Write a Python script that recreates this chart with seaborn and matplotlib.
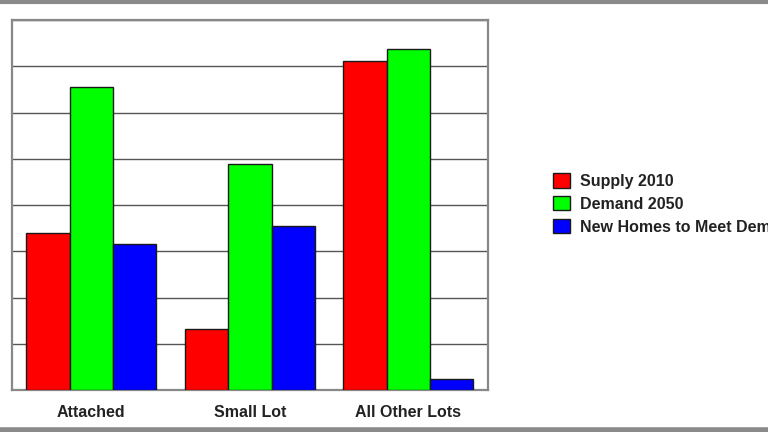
import matplotlib
matplotlib.use("Agg")
import matplotlib.pyplot as plt
import seaborn as sns
import pandas as pd
from matplotlib.lines import Line2D

categories = ["Attached", "Small Lot", "All Other Lots"]
series = ["Supply 2010", "Demand 2050", "New Homes to Meet Demand"]
supply_2010 = [3.39, 1.32, 7.11]
demand_2050 = [6.55, 4.89, 7.37]
new_homes = [3.16, 3.55, 0.24]
colors = ["#ff0000", "#00ff00", "#0000ff"]

rows = []
for name, vals in zip(series, [supply_2010, demand_2050, new_homes]):
    for cat, v in zip(categories, vals):
        rows.append({"Category": cat, "Series": name, "Value": v})
df = pd.DataFrame(rows)

sns.set_style("white")
plt.rcParams["font.family"] = ["Liberation Sans", "DejaVu Sans"]

fig = plt.figure(figsize=(7.68, 4.32), dpi=100)
ax = fig.add_axes([0.0156, 0.0972, 0.6195, 0.8565])

sns.barplot(data=df, x="Category", y="Value", hue="Series", palette=colors,
            saturation=1, width=0.82, edgecolor="#1a1a1a", linewidth=1,
            ax=ax, zorder=3)

ax.set_xlim(-0.5, 2.5)
ax.set_ylim(0, 8)
ax.set_yticks(range(9))
ax.set_yticklabels([])
ax.yaxis.grid(True, color="#555555", linewidth=1, zorder=0)
ax.xaxis.grid(False)
ax.set_xlabel("")
ax.set_ylabel("")
ax.tick_params(axis="both", length=0)
ax.tick_params(axis="x", pad=11, labelsize=11.5)
for lab in ax.get_xticklabels():
    lab.set_fontweight("bold")
    lab.set_color("#222222")
for sp in ax.spines.values():
    sp.set_color("#888888")
    sp.set_linewidth(1.6)
    sp.set_visible(True)

# legend sits on the right; its last label runs off the picture as in the original
handles, labels = ax.get_legend_handles_labels()
ax.legend_.remove()
leg = fig.legend(handles, labels, loc="center left", bbox_to_anchor=(0.72, 0.528),
                 frameon=False, borderpad=0, borderaxespad=0, handlelength=1.05,
                 handleheight=1.0, handletextpad=0.62, labelspacing=0.45,
                 prop={"size": 11.5, "weight": "bold"})
for t in leg.get_texts():
    t.set_color("#222222")

# gray frame strips at top and bottom of the picture
fig.add_artist(Line2D([0, 1], [0.996, 0.996], color="#8a8a8a", linewidth=3, transform=fig.transFigure))
fig.add_artist(Line2D([0, 1], [0.004, 0.004], color="#8a8a8a", linewidth=4, transform=fig.transFigure))

plt.savefig("out.png", dpi=100)
